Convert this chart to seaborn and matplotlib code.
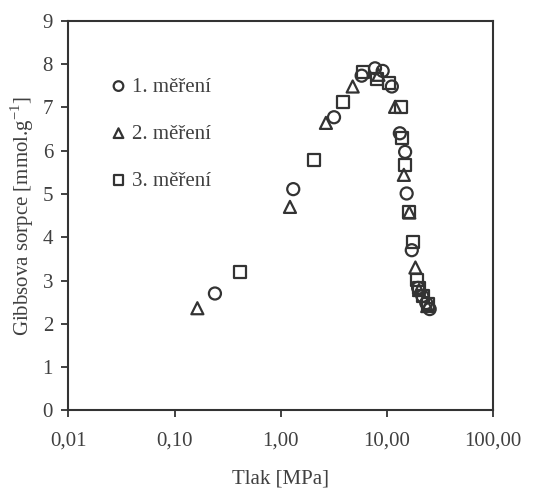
import matplotlib
matplotlib.use('Agg')
import matplotlib.pyplot as plt
import seaborn as sns
import pandas as pd

# Data (pressure MPa, Gibbs sorption mmol/g)
p1 = [0.24, 1.31, 3.17, 5.77, 7.71, 9.10, 11.1, 13.2, 14.8, 15.3, 17.1, 19.6, 21.5, 23.4, 25.2]
s1 = [2.70, 5.11, 6.77, 7.73, 7.90, 7.84, 7.48, 6.40, 5.97, 5.01, 3.70, 2.83, 2.64, 2.48, 2.34]

p2 = [0.164, 1.22, 2.66, 4.75, 8.3, 11.9, 14.4, 16.2, 18.5, 20.0, 23.9]
s2 = [2.36, 4.70, 6.64, 7.48, 7.75, 7.01, 5.44, 4.57, 3.30, 2.78, 2.41]

p3 = [0.414, 2.07, 3.87, 5.90, 8.09, 10.5, 13.4, 13.8, 14.8, 16.2, 17.4, 19.1, 20.0, 22.0, 24.3]
s3 = [3.19, 5.78, 7.13, 7.82, 7.65, 7.55, 7.01, 6.29, 5.67, 4.59, 3.90, 3.01, 2.83, 2.64, 2.45]

labels = ['1. měření', '2. měření', '3. měření']
markers = ['o', '^', 's']

xticks = [0.01, 0.1, 1, 10, 100]
xticklabels = ['0,01', '0,10', '1,00', '10,00', '100,00']
yticks = list(range(0, 10))

sns.set_style('white')
plt.rcParams['font.family'] = ['Liberation Serif', 'DejaVu Serif']
plt.rcParams['mathtext.fontset'] = 'custom'
plt.rcParams['mathtext.rm'] = 'Liberation Serif'

dark = '#333333'
txt = '#404040'
fs = 15

fig = plt.figure(figsize=(5.53, 4.90), dpi=100)
ax = fig.add_axes([0.1235, 0.1624, 0.7685, 0.7954])

series = [(p1, s1), (p2, s2), (p3, s3)]
for (xs, ys), lab, m in zip(series, labels, markers):
    df = pd.DataFrame({'tlak': xs, 'sorpce': ys})
    sns.scatterplot(data=df, x='tlak', y='sorpce', marker=m, s=75,
                    facecolor='none', edgecolor=dark, linewidth=1.6,
                    label=lab, ax=ax)

ax.set_xscale('log')
ax.set_xlim(0.01, 100)
ax.set_ylim(0, 9)
ax.set_xticks(xticks)
ax.set_xticklabels(xticklabels)
ax.xaxis.set_minor_locator(matplotlib.ticker.NullLocator())
ax.set_yticks(yticks)

ax.tick_params(axis='both', direction='out', length=5, width=1.3,
               color=dark, labelcolor=txt, labelsize=fs, pad=6,
               bottom=True, left=True)
ax.tick_params(axis='x', pad=10)
for sp in ax.spines.values():
    sp.set_color(dark)
    sp.set_linewidth(1.5)

ax.set_xlabel('Tlak [MPa]', fontsize=fs, color=txt, labelpad=14)
ax.set_ylabel(r'Gibbsova sorpce [mmol.g$^{\mathregular{-1}}$]',
              fontsize=fs, color=txt, labelpad=5)

leg = ax.legend(loc='upper left', bbox_to_anchor=(0.074, 0.877), frameon=False,
                fontsize=fs, labelspacing=1.32, handletextpad=0.13,
                handlelength=1.0, borderaxespad=0, markerscale=0.8)
for t in leg.get_texts():
    t.set_color(txt)

fig.savefig('out.png', dpi=100)
